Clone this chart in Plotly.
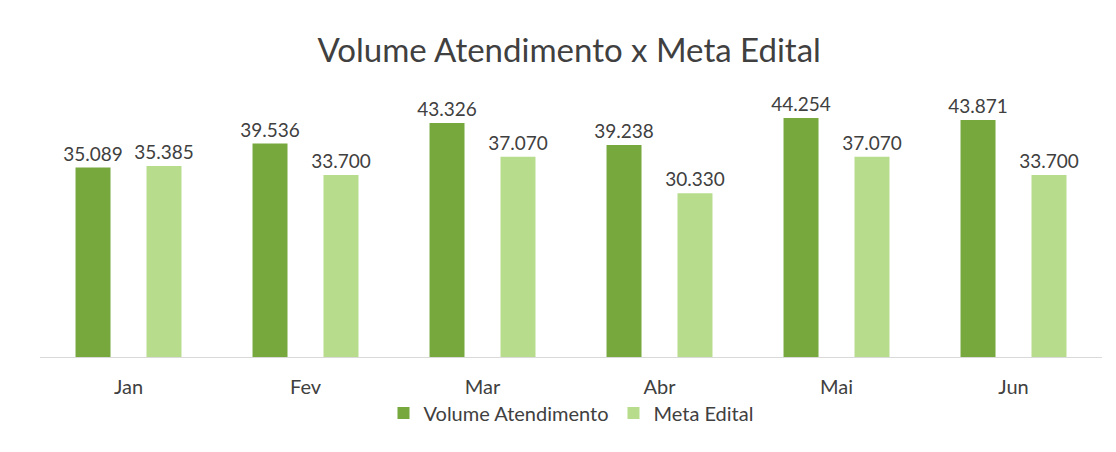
import plotly.graph_objects as go

meses = ["Jan", "Fev", "Mar", "Abr", "Mai", "Jun"]
volume_atendimento = [35089, 39536, 43326, 39238, 44254, 43871]
meta_edital = [35385, 33700, 37070, 30330, 37070, 33700]


def fmt(v):
    # Brazilian thousands separator
    return f"{v:,}".replace(",", ".")


font_family = "Lato, 'Open Sans', sans-serif"
label_color = "#404040"

fig = go.Figure()
fig.add_trace(go.Bar(
    name="Volume Atendimento",
    x=meses,
    y=volume_atendimento,
    marker=dict(color="#76a83e", line=dict(width=0)),
    text=[fmt(v) for v in volume_atendimento],
    textposition="outside",
    constraintext="none",
    cliponaxis=False,
    textfont=dict(size=19, color=label_color, family=font_family),
))
fig.add_trace(go.Bar(
    name="Meta Edital",
    x=meses,
    y=meta_edital,
    marker=dict(color="#b7dc8c", line=dict(width=0)),
    text=[fmt(v) for v in meta_edital],
    textposition="outside",
    constraintext="none",
    cliponaxis=False,
    textfont=dict(size=19, color=label_color, family=font_family),
))

fig.update_layout(
    width=1116,
    height=452,
    paper_bgcolor="white",
    plot_bgcolor="white",
    barmode="group",
    bargap=0.198,
    bargroupgap=0.507,
    margin=dict(l=40, r=14, t=87, b=95),
    title=dict(
        text="Volume Atendimento x Meta Edital",
        x=0.51,
        xanchor="center",
        y=1 - 50 / 452,
        yanchor="middle",
        font=dict(size=33, color=label_color, family=font_family),
    ),
    xaxis=dict(
        showline=True,
        linecolor="#d9d9d9",
        linewidth=1,
        ticks="",
        ticklabelstandoff=12,
        tickfont=dict(size=20, color=label_color, family=font_family),
        showgrid=False,
    ),
    yaxis=dict(
        range=[0, 50000],
        visible=False,
        showgrid=False,
        zeroline=False,
    ),
    legend=dict(
        orientation="h",
        x=0.5,
        xanchor="center",
        y=-0.135,
        yanchor="top",
        bgcolor="rgba(0,0,0,0)",
        font=dict(size=20, color=label_color, family=font_family),
        itemwidth=30,
        traceorder="normal",
    ),
    showlegend=True,
)

fig.write_html("out.html")
